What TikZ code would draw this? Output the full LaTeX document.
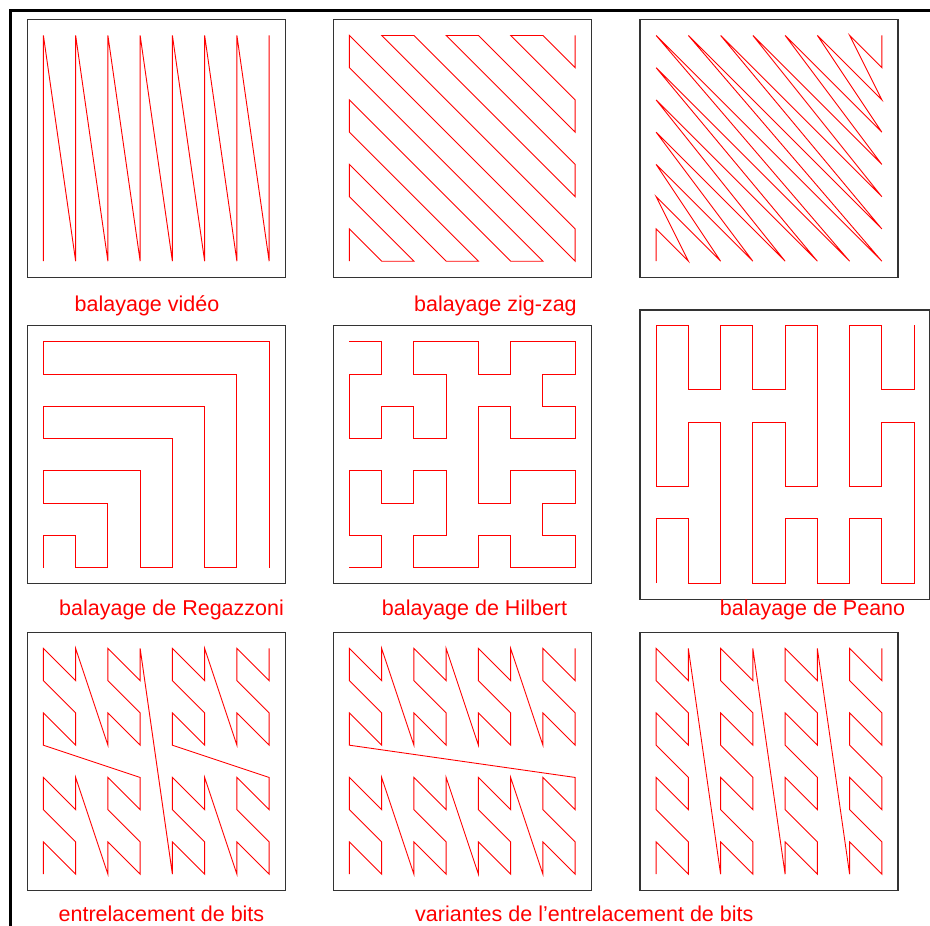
\documentclass[tikz,border=0pt]{standalone}
\usepackage{fontspec}
\setmainfont{Liberation Sans}
\tikzset{
  boxline/.style={draw=black!80, line width=1.2pt},
  curve/.style={draw=red, line width=0.9pt},
  capt/.style={text=red, font=\fontsize{21.5}{25}\selectfont, anchor=base west, inner sep=0pt},
  frameline/.style={draw=black, line width=2.7pt},
  cell/.style={x=32.25pt, y=32.25pt}
}
\begin{document}
\begin{tikzpicture}[x=1pt,y=-1pt]
\useasboundingbox (0,0) rectangle (930,926);
% outer frame
\draw[frameline] (10.7,926) -- (10.7,10.7) -- (930,10.7);

% 1 video
\begin{scope}[shift={(43.4pt,-261.2pt)}, cell]
  \draw[boxline] (-0.5,-0.5) rectangle (7.5,7.5);
  \draw[curve] (0,0) \foreach \i in {0,...,7}{ -- (\i,0) -- (\i,7) };
\end{scope}

% 2 zig-zag
\begin{scope}[shift={(349.4pt,-261.2pt)}, cell]
  \draw[boxline] (-0.5,-0.5) rectangle (7.5,7.5);
  \draw[curve] (0,0)--(0,1)--(1,0)--(2,0)--(0,2)--(0,3)--(3,0)--(4,0)--(0,4)--(0,5)--(5,0)--(6,0)--(0,6)--(0,7)--(7,0)--(7,1)--(1,7)--(2,7)--(7,2)--(7,3)--(3,7)--(4,7)--(7,4)--(7,5)--(5,7)--(6,7)--(7,6)--(7,7);
\end{scope}

% 3 diagonal, same direction
\begin{scope}[shift={(656.1pt,-261.2pt)}, cell]
  \draw[boxline] (-0.5,-0.5) rectangle (7.5,7.5);
  \draw[curve] (0,0)--(0,1)--(1,0)--(0,2)--(2,0)--(0,3)--(3,0)--(0,4)--(4,0)--(0,5)--(5,0)--(0,6)--(6,0)--(0,7)--(7,0)--(1,7)--(7,1)--(2,7)--(7,2)--(3,7)--(7,3)--(4,7)--(7,4)--(5,7)--(7,5)--(6,7)--(7,6)--(7,7);
\end{scope}

% 4 Regazzoni
\begin{scope}[shift={(43.4pt,-567.6pt)}, cell]
  \draw[boxline] (-0.5,-0.5) rectangle (7.5,7.5);
  \draw[curve] (0,0)--(0,1)--(1,1)--(1,0)--(2,0)--(2,2)--(0,2)--(0,3)--(3,3)--(3,0)--(4,0)--(4,4)--(0,4)--(0,5)--(5,5)--(5,0)--(6,0)--(6,6)--(0,6)--(0,7)--(7,7)--(7,0);
\end{scope}

% 5 Hilbert
\begin{scope}[shift={(349.4pt,-567.6pt)}, cell]
  \draw[boxline] (-0.5,-0.5) rectangle (7.5,7.5);
  \draw[curve] (0,0)--(1,0)--(1,1)--(0,1)--(0,3)--(1,3)--(1,2)--(2,2)--(2,3)--(3,3)--(3,1)--(2,1)--(2,0)--(4,0)--(4,1)--(5,1)--(5,0)--(7,0)--(7,1)--(6,1)--(6,2)--(7,2)--(7,3)--(5,3)--(5,2)--(4,2)--(4,5)--(5,5)--(5,4)--(7,4)--(7,5)--(6,5)--(6,6)--(7,6)--(7,7)--(5,7)--(5,6)--(4,6)--(4,7)--(2,7)--(2,6)--(3,6)--(3,4)--(2,4)--(2,5)--(1,5)--(1,4)--(0,4)--(0,6)--(1,6)--(1,7)--(0,7);
\end{scope}

% 6 Peano
\begin{scope}[shift={(656.1pt,-583.2pt)}, cell]
  \draw[boxline] (-0.5,-0.5) rectangle (8.47,8.47);
  \draw[curve] (0,0)--(0,2)--(1,2)--(1,0)--(2,0)--(2,5)--(1,5)--(1,3)--(0,3)--(0,8)--(1,8)--(1,6)--(2,6)--(2,8)--(3,8)--(3,6)--(4,6)--(4,8)--(5,8)--(5,3)--(4,3)--(4,5)--(3,5)--(3,0)--(4,0)--(4,2)--(5,2)--(5,0)--(6,0)--(6,2)--(7,2)--(7,0)--(8,0)--(8,5)--(7,5)--(7,3)--(6,3)--(6,8)--(7,8)--(7,6)--(8,6)--(8,8);
\end{scope}

% 7 bit interleaving (Morton)
\begin{scope}[shift={(43.4pt,-874.2pt)}, cell]
  \draw[boxline] (-0.5,-0.5) rectangle (7.5,7.5);
  \foreach \n in {0,...,63}{
    \pgfmathtruncatemacro\qa{mod(\n,2)}
    \pgfmathtruncatemacro\qb{mod(int(\n/2),2)}
    \pgfmathtruncatemacro\qc{mod(int(\n/4),2)}
    \pgfmathtruncatemacro\qd{mod(int(\n/8),2)}
    \pgfmathtruncatemacro\qe{mod(int(\n/16),2)}
    \pgfmathtruncatemacro\qf{mod(int(\n/32),2)}
    \pgfmathtruncatemacro\xx{\qb+2*\qd+4*\qf}
    \pgfmathtruncatemacro\yy{\qa+2*\qc+4*\qe}
    \coordinate (ma\n) at (\xx,\yy);
  }
  \draw[curve] (ma0) \foreach \n in {1,...,63}{ -- (ma\n) };
\end{scope}

% 8 variant 1
\begin{scope}[shift={(349.4pt,-874.2pt)}, cell]
  \draw[boxline] (-0.5,-0.5) rectangle (7.5,7.5);
  \foreach \n in {0,...,63}{
    \pgfmathtruncatemacro\qa{mod(\n,2)}
    \pgfmathtruncatemacro\qb{mod(int(\n/2),2)}
    \pgfmathtruncatemacro\qc{mod(int(\n/4),2)}
    \pgfmathtruncatemacro\qd{mod(int(\n/8),2)}
    \pgfmathtruncatemacro\qe{mod(int(\n/16),2)}
    \pgfmathtruncatemacro\qf{mod(int(\n/32),2)}
    \pgfmathtruncatemacro\xx{\qb+2*\qd+4*\qe}
    \pgfmathtruncatemacro\yy{\qa+2*\qc+4*\qf}
    \coordinate (mb\n) at (\xx,\yy);
  }
  \draw[curve] (mb0) \foreach \n in {1,...,63}{ -- (mb\n) };
\end{scope}

% 9 variant 2
\begin{scope}[shift={(656.1pt,-874.2pt)}, cell]
  \draw[boxline] (-0.5,-0.5) rectangle (7.5,7.5);
  \foreach \n in {0,...,63}{
    \pgfmathtruncatemacro\qa{mod(\n,2)}
    \pgfmathtruncatemacro\qb{mod(int(\n/2),2)}
    \pgfmathtruncatemacro\qc{mod(int(\n/4),2)}
    \pgfmathtruncatemacro\qd{mod(int(\n/8),2)}
    \pgfmathtruncatemacro\qe{mod(int(\n/16),2)}
    \pgfmathtruncatemacro\qf{mod(int(\n/32),2)}
    \pgfmathtruncatemacro\xx{\qb+2*\qe+4*\qf}
    \pgfmathtruncatemacro\yy{\qa+2*\qc+4*\qd}
    \coordinate (mc\n) at (\xx,\yy);
  }
  \draw[curve] (mc0) \foreach \n in {1,...,63}{ -- (mc\n) };
\end{scope}

% captions
\node[capt] (c1) at (74.5,311) {balayage vidéo};
\node[capt] (c2) at (414,311) {balayage zig-zag};
\node[capt] (c4) at (59,615.5) {balayage de Regazzoni};
\node[capt] (c5) at (381.7,615.5) {balayage de Hilbert};
\node[capt] (c6) at (719.7,615.5) {balayage de Peano};
\node[capt] (c7) at (58.5,921.7) {entrelacement de bits};
\node[capt] (c8) at (415,921.7) {variantes de l’entrelacement de bits};
\end{tikzpicture}
\end{document}
